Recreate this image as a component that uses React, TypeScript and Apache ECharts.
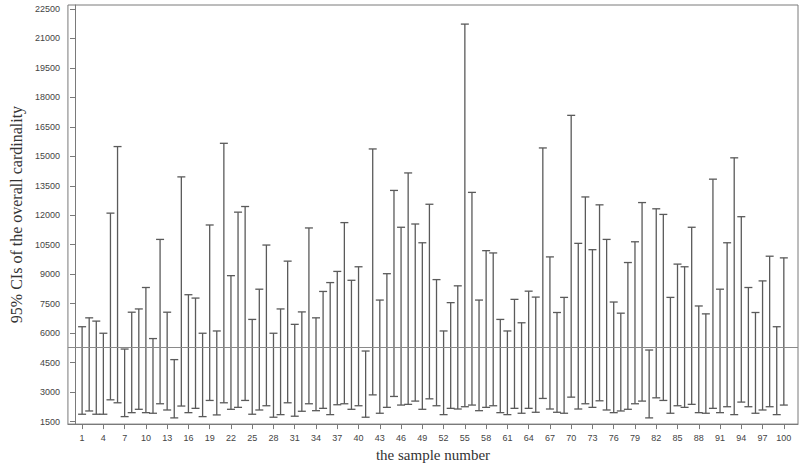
import React, { useEffect, useRef } from "react";
import * as echarts from "echarts";

const sampleIds = [
  1, 2, 3, 4, 5, 6, 7, 8, 9, 10, 11, 12, 13, 14, 15, 16, 17, 18, 19, 20,
  21, 22, 23, 24, 25, 26, 27, 28, 29, 30, 31, 32, 33, 34, 35, 36, 37, 38, 39, 40,
  41, 42, 43, 44, 45, 46, 47, 48, 49, 50, 51, 52, 53, 54, 55, 56, 57, 58, 59, 60,
  61, 62, 63, 64, 65, 66, 67, 68, 69, 70, 71, 72, 73, 74, 75, 76, 77, 78, 79, 80,
  81, 82, 83, 84, 85, 86, 87, 88, 89, 90, 91, 92, 93, 94, 95, 96, 97, 98, 99, 100,
];

const upperCI = [
  6326, 6778, 6612, 5994, 12107, 15495, 5190, 7065, 7231, 8322,
  5723, 10770, 7065, 4652, 13952, 7955, 7784, 5994, 11504, 6110,
  15661, 8925, 12157, 12444, 6698, 8236, 10483, 5994, 7231, 9664,
  6447, 7080, 11353, 6778, 8121, 8573, 9141, 11625, 8689, 9377,
  5089, 15374, 7683, 9025, 13263, 11388, 14153, 11554, 10599, 12559,
  8724, 6110, 7552, 8407, 21728, 13163, 7683, 10197, 10081, 6698,
  6110, 7718, 6527, 8136, 7834, 15425, 9880, 7050, 7819, 17084,
  10569, 12931, 10247, 12529, 10770, 7583, 7015, 9593, 10649, 12645,
  5140, 12328, 12042, 7819, 9513, 9377, 11388, 7382, 6980, 13836,
  8236, 10599, 14922, 11926, 8322, 7050, 8658, 9915, 6326, 9830,
];

const lowerCI = [
  1872, 2038, 1872, 1872, 2606, 2455, 1751, 1952, 2123, 1952,
  1922, 2405, 2088, 1686, 2289, 1952, 2172, 1751, 2574, 1837,
  2455, 2123, 2222, 2574, 1872, 2088, 2304, 1720, 1852, 2455,
  1771, 2023, 2405, 2053, 2172, 1852, 2355, 2405, 2123, 2304,
  1720, 2857, 1922, 2222, 2777, 2339, 2375, 2541, 2123, 2656,
  2304, 1852, 2172, 2138, 2254, 2339, 2053, 2222, 2304, 1952,
  1852, 2172, 1922, 2172, 1972, 2676, 2138, 1972, 1922, 2742,
  2138, 2405, 2222, 2556, 2088, 1952, 2038, 2123, 2405, 2541,
  1686, 2707, 2574, 1922, 2304, 2222, 2375, 1952, 1922, 2172,
  1952, 2254, 1852, 2490, 2254, 1922, 2088, 2254, 1852, 2339,
];

const trueCardinality = 5260;

const xTickLabels = [
  1, 4, 7, 10, 13, 16, 19, 22, 25, 28, 31, 34, 37, 40, 43, 46, 49, 52, 55, 58,
  61, 64, 67, 70, 73, 76, 79, 82, 85, 88, 91, 94, 97, 100,
];
const yTickLabels = [
  1500, 3000, 4500, 6000, 7500, 9000, 10500, 12000, 13500, 15000, 16500, 18000,
  19500, 21000, 22500,
];

export default function App() {
  const ref = useRef<HTMLDivElement>(null);
  useEffect(() => {
    if (!ref.current) return;
    const chart = echarts.init(ref.current, null, { renderer: "svg" });
    const data = sampleIds.map((id, i) => [id, lowerCI[i], upperCI[i]]);
    const barColor = "#5a5a5a";
    chart.setOption({
      animation: false,
      backgroundColor: "#ffffff",
      grid: {
        left: 58,
        right: 2,
        top: 5,
        bottom: 38,
        show: true,
        borderColor: "#7a7a7a",
        borderWidth: 1,
        backgroundColor: "transparent",
      },
      xAxis: {
        type: "value",
        min: -1,
        max: 102,
        name: "the sample number",
        nameLocation: "middle",
        nameGap: 19,
        nameTextStyle: {
          fontFamily: "Liberation Serif",
          fontSize: 15,
          color: "#333",
        },
        axisLine: { show: true, lineStyle: { color: "#7a7a7a", width: 1 } },
        axisTick: {
          show: true,
          length: 5,
          customValues: xTickLabels,
          lineStyle: { color: "#7a7a7a" },
        },
        axisLabel: {
          customValues: xTickLabels,
          margin: 9,
          fontFamily: "Liberation Sans",
          fontSize: 9,
          color: "#444",
          formatter: (v: number) => String(v),
        },
        splitLine: { show: false },
      },
      yAxis: {
        type: "value",
        min: 1370,
        max: 22700,
        name: "95% CIs of the overall cardinality",
        nameLocation: "middle",
        nameGap: 35,
        nameTextStyle: {
          fontFamily: "Liberation Serif",
          fontSize: 16,
          color: "#333",
        },
        axisLine: { show: true, lineStyle: { color: "#7a7a7a", width: 1 } },
        axisTick: {
          show: true,
          length: 5,
          customValues: yTickLabels,
          lineStyle: { color: "#7a7a7a" },
        },
        axisLabel: {
          customValues: yTickLabels,
          margin: 8,
          fontFamily: "Liberation Sans",
          fontSize: 9,
          color: "#444",
          formatter: (v: number) => String(v),
        },
        splitLine: { show: false },
      },
      series: [
        {
          type: "custom",
          data,
          renderItem: (params: any, api: any) => {
            const x = api.value(0);
            const lo = api.coord([x, api.value(1)]);
            const hi = api.coord([x, api.value(2)]);
            const hw = 4;
            const style = { stroke: barColor, lineWidth: 1.3 };
            return {
              type: "group",
              children: [
                { type: "line", shape: { x1: lo[0], y1: lo[1], x2: hi[0], y2: hi[1] }, style },
                { type: "line", shape: { x1: lo[0] - hw, y1: lo[1], x2: lo[0] + hw, y2: lo[1] }, style },
                { type: "line", shape: { x1: hi[0] - hw, y1: hi[1], x2: hi[0] + hw, y2: hi[1] }, style },
              ],
            };
          },
          markLine: {
            silent: true,
            symbol: ["none", "none"],
            label: { show: false },
            lineStyle: { color: "#8a8a8a", width: 1, type: "solid" },
            data: [{ yAxis: trueCardinality }],
          },
        },
      ],
    });
    return () => chart.dispose();
  }, []);
  return (
    <div
      ref={ref}
      style={{ position: "fixed", left: 0, top: 0, width: 800, height: 467 }}
    />
  );
}
